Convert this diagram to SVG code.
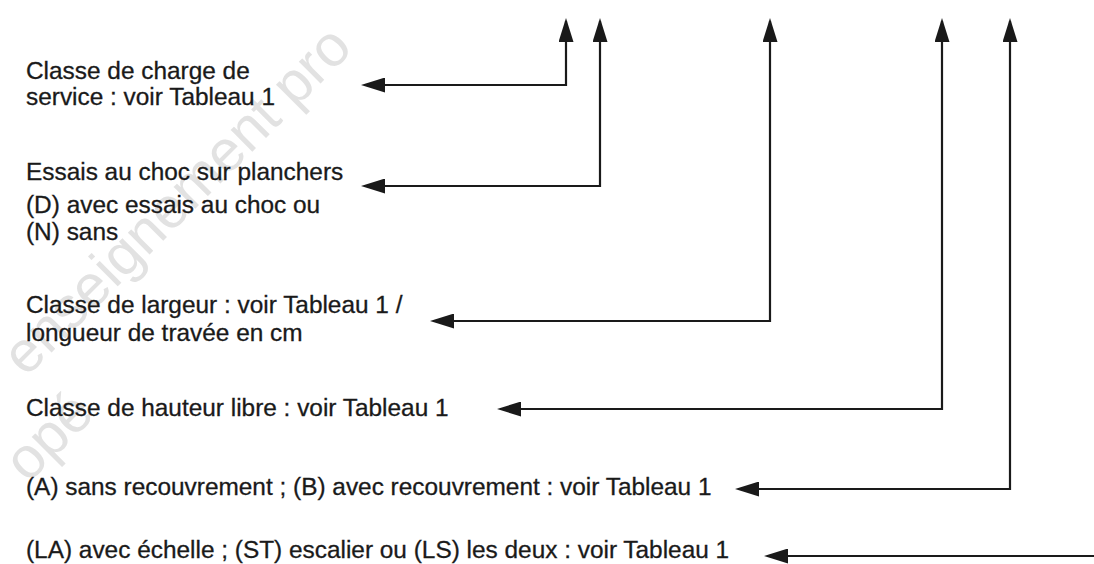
<svg xmlns="http://www.w3.org/2000/svg" width="1094" height="564" viewBox="0 0 1094 564">
  <style>
    .lbl { font-family: "Liberation Sans", Arial, sans-serif; font-size: 24.4px; fill: #1a1a1a; stroke: #1a1a1a; stroke-width: 0.3; }
    .wm { font-family: "Liberation Sans", Arial, sans-serif; font-size: 58px; fill: #e2e2e2; }
    .conn { fill: none; stroke: #1a1a1a; stroke-width: 2.2; stroke-linejoin: miter; marker-start: url(#head); marker-end: url(#head); }
  </style>
  <defs>
    <marker id="head" viewBox="0 0 24 15" refX="21" refY="7.5" markerWidth="24" markerHeight="15" markerUnits="userSpaceOnUse" orient="auto-start-reverse">
      <path d="M0,0 L24,7.5 L0,15 z" fill="#1a1a1a"/>
    </marker>
  </defs>

  <rect width="1094" height="564" fill="#ffffff"/>

  <!-- faint background stamp -->
  <g id="stamp">
    <text class="wm" transform="translate(26,378) rotate(-45)">enseignement pro</text>
    <text class="wm" transform="translate(28,484) rotate(-45)">opé</text>
  </g>

  <!-- connectors: each runs from its label up to the designation above -->
  <g id="connectors">
    <path class="conn" d="M364,85 H566 V21"/>
    <path class="conn" d="M364,186 H600 V21"/>
    <path class="conn" d="M433,321 H770 V21"/>
    <path class="conn" d="M500,409 H942 V21"/>
    <path class="conn" d="M738,489 H1010 V21"/>
    <path class="conn" d="M767,556 H1094" style="marker-end:none"/>
  </g>

  <g id="n-charge">
    <text class="lbl" x="26" y="79">Classe de charge de</text>
    <text class="lbl" x="26" y="105">service : voir Tableau 1</text>
  </g>
  <g id="n-choc">
    <text class="lbl" x="26" y="180">Essais au choc sur planchers</text>
    <text class="lbl" x="26" y="213">(D) avec essais au choc ou</text>
    <text class="lbl" x="26" y="240">(N) sans</text>
  </g>
  <g id="n-largeur">
    <text class="lbl" x="26" y="313">Classe de largeur : voir Tableau 1 /</text>
    <text class="lbl" x="26" y="341">longueur de travée en cm</text>
  </g>
  <g id="n-hauteur">
    <text class="lbl" x="26" y="416">Classe de hauteur libre : voir Tableau 1</text>
  </g>
  <g id="n-recouvrement">
    <text class="lbl" x="26" y="495">(A) sans recouvrement ; (B) avec recouvrement : voir Tableau 1</text>
  </g>
  <g id="n-acces">
    <text class="lbl" x="26" y="558">(LA) avec échelle ; (ST) escalier ou (LS) les deux : voir Tableau 1</text>
  </g>
</svg>
